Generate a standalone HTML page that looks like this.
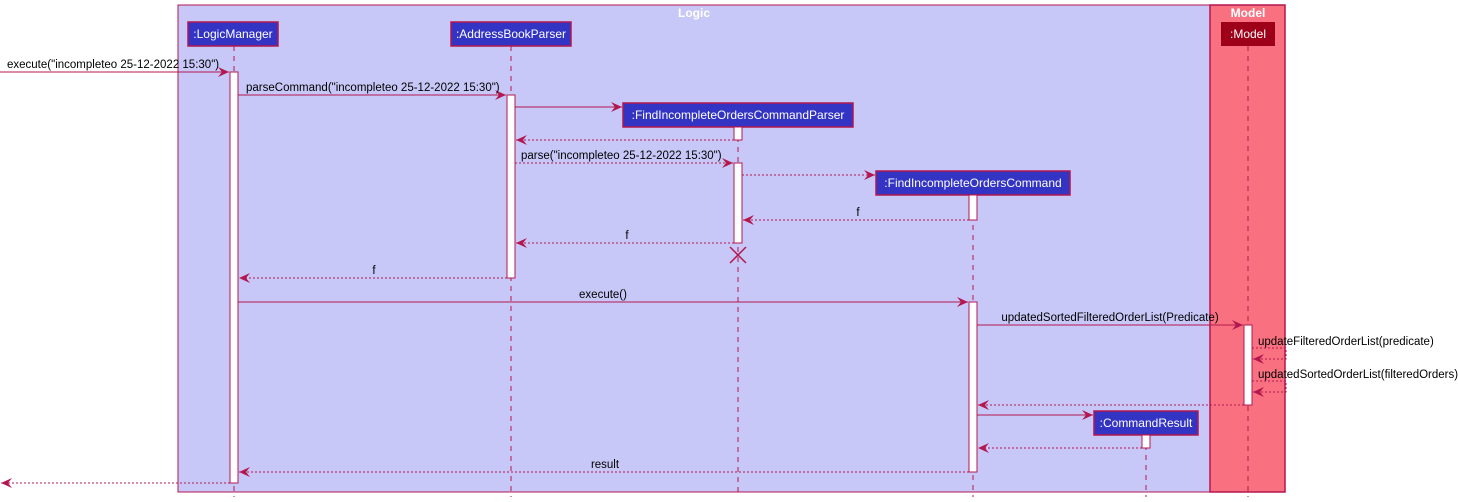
<!DOCTYPE html>
<html><head><meta charset="utf-8"><style>
html,body{margin:0;padding:0;background:#fff;width:1458px;height:502px;overflow:hidden}
svg text{font-family:"Liberation Sans",sans-serif;font-size:11.5px;fill:#000}
</style></head><body>
<svg width="1458" height="502" viewBox="0 0 1458 502" xmlns="http://www.w3.org/2000/svg">
<defs>
<marker id="a" markerWidth="12" markerHeight="10" refX="11" refY="5" orient="auto" markerUnits="userSpaceOnUse">
<path d="M0,0 L11,5 L0,10 L4,5 Z" fill="#b3174f"/></marker>
</defs>
<rect x="178" y="5" width="1032" height="487" fill="#c8c8f8" stroke="#b3174f" stroke-width="1"/>
<rect x="1210" y="5" width="75" height="487" fill="#f97181" stroke="#b3174f" stroke-width="1.5"/>
<text x="694" y="17" text-anchor="middle" style="fill:#fff;font-weight:bold;font-size:12px">Logic</text>
<text x="1248" y="17" text-anchor="middle" style="fill:#fff;font-weight:bold;font-size:12px">Model</text>
<g stroke="#b3174f" stroke-dasharray="5,5" stroke-width="1">
<line x1="234" y1="46" x2="234" y2="497"/>
<line x1="511" y1="46" x2="511" y2="497"/>
<line x1="738" y1="127" x2="738" y2="497"/>
<line x1="973" y1="195" x2="973" y2="497"/>
<line x1="1146" y1="435" x2="1146" y2="497"/>
<line x1="1248" y1="46" x2="1248" y2="497"/>
</g>
<g stroke="#b3174f" stroke-width="1.5">
<rect x="188" y="22" width="90" height="24" fill="#3333c4"/>
<rect x="451" y="22" width="120" height="24" fill="#3333c4"/>
<rect x="623" y="103" width="230" height="24" fill="#3333c4"/>
<rect x="876" y="171" width="194" height="24" fill="#3333c4"/>
<rect x="1094" y="411" width="104" height="24" fill="#3333c4"/>
<rect x="1221" y="22" width="54" height="24" fill="#9d0018" stroke="none"/>
</g>
<text x="233" y="38" text-anchor="middle" style="fill:#fff;font-size:12px">:LogicManager</text>
<text x="511" y="38" text-anchor="middle" style="fill:#fff;font-size:12px">:AddressBookParser</text>
<text x="738" y="119" text-anchor="middle" style="fill:#fff;font-size:12px">:FindIncompleteOrdersCommandParser</text>
<text x="973" y="187" text-anchor="middle" style="fill:#fff;font-size:12px">:FindIncompleteOrdersCommand</text>
<text x="1146" y="427" text-anchor="middle" style="fill:#fff;font-size:12px">:CommandResult</text>
<text x="1248" y="38" text-anchor="middle" style="fill:#fff;font-size:12px">:Model</text>
<g fill="#fff" stroke="#b3174f" stroke-width="1">
<rect x="230" y="72" width="8" height="411"/>
<rect x="507" y="95" width="8" height="183"/>
<rect x="734" y="127" width="8" height="13"/>
<rect x="734" y="163" width="8" height="80"/>
<rect x="969" y="195" width="8" height="25"/>
<rect x="969" y="302" width="8" height="170"/>
<rect x="1244" y="325" width="8" height="80"/>
<rect x="1142" y="435" width="8" height="13"/>
</g>
<g stroke="#b3174f" stroke-width="1.5"><line x1="730" y1="247" x2="746" y2="263"/><line x1="746" y1="247" x2="730" y2="263"/></g>
<g stroke="#b3174f" stroke-width="1" marker-end="url(#a)">
<line x1="0" y1="72" x2="229" y2="72"/>
<line x1="238" y1="95" x2="506" y2="95"/>
<line x1="515" y1="107" x2="622" y2="107"/>
<line x1="238" y1="302" x2="968" y2="302"/>
<line x1="977" y1="325" x2="1243" y2="325"/>
<line x1="977" y1="415" x2="1093" y2="415"/>
</g>
<g stroke="#b3174f" stroke-width="1" stroke-dasharray="2,2" marker-end="url(#a)" fill="none">
<line x1="734" y1="140" x2="516" y2="140"/>
<line x1="515" y1="163" x2="733" y2="163"/>
<line x1="742" y1="175" x2="875" y2="175"/>
<line x1="969" y1="220" x2="743" y2="220"/>
<line x1="734" y1="243" x2="516" y2="243"/>
<line x1="507" y1="278" x2="239" y2="278"/>
<path d="M1252,348 L1286,348 L1286,359 L1253,359"/>
<path d="M1252,381 L1286,381 L1286,392 L1253,392"/>
<line x1="1244" y1="405" x2="978" y2="405"/>
<line x1="1142" y1="448" x2="978" y2="448"/>
<line x1="969" y1="472" x2="239" y2="472"/>
<line x1="230" y1="483" x2="1" y2="483"/>
</g>
<text x="7" y="68">execute("incompleteo 25-12-2022 15:30")</text>
<text x="246" y="91">parseCommand("incompleteo 25-12-2022 15:30")</text>
<text x="521" y="159">parse("incompleteo 25-12-2022 15:30")</text>
<text x="858" y="216" text-anchor="middle">f</text>
<text x="627" y="239" text-anchor="middle">f</text>
<text x="374" y="274" text-anchor="middle">f</text>
<text x="603" y="298" text-anchor="middle">execute()</text>
<text x="1110" y="321" text-anchor="middle">updatedSortedFilteredOrderList(Predicate)</text>
<text x="1258" y="345">updateFilteredOrderList(predicate)</text>
<text x="1258" y="378">updatedSortedOrderList(filteredOrders)</text>
<text x="605" y="468" text-anchor="middle">result</text>
</svg>
</body></html>
